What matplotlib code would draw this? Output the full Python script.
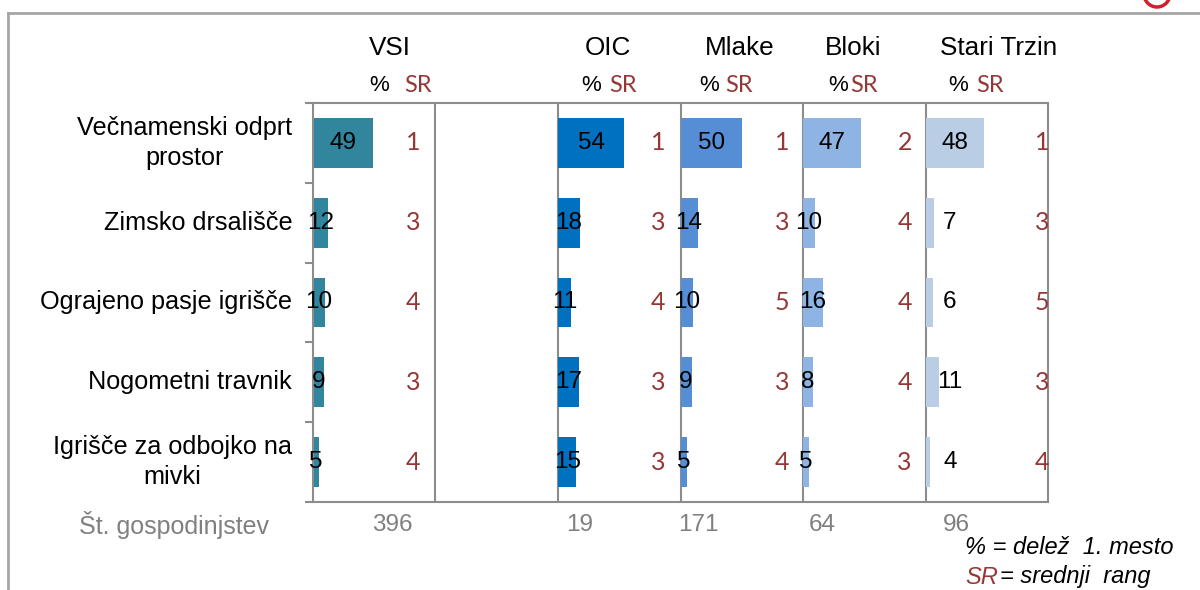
import matplotlib.pyplot as plt
import matplotlib.transforms as mtransforms
from matplotlib.lines import Line2D
from matplotlib.patches import Ellipse

# Data
categories = ['Večnamenski odprt\nprostor', 'Zimsko drsališče', 'Ograjeno pasje igrišče',
              'Nogometni travnik', 'Igrišče za odbojko na\nmivki']
groups = ['VSI', 'OIC', 'Mlake', 'Bloki', 'Stari Trzin']
pct_vsi = [49, 12, 10, 9, 5]
pct_oic = [54, 18, 11, 17, 15]
pct_mlake = [50, 14, 10, 9, 5]
pct_bloki = [47, 10, 16, 8, 5]
pct_stari = [48, 7, 6, 11, 4]
sr_vsi = [1, 3, 4, 3, 4]
sr_oic = [1, 3, 4, 3, 3]
sr_mlake = [1, 3, 5, 3, 4]
sr_bloki = [2, 4, 4, 4, 3]
sr_stari = [1, 3, 5, 3, 4]
households = [396, 19, 171, 64, 96]

pct = [pct_vsi, pct_oic, pct_mlake, pct_bloki, pct_stari]
sr = [sr_vsi, sr_oic, sr_mlake, sr_bloki, sr_stari]

# layout (x axis 0..600, every panel is 100 units wide)
offsets = [0, 200, 300, 400, 500]
colors = ['#31859C', '#0070C0', '#558ED5', '#8EB4E3', '#B9CDE5']
head_x = [63, 241, 348, 441, 560]
pct_head_x = [54, 227, 323, 429, 527]
sr_head_x = [86, 253, 348, 450, 553]
sr_x = [82, 282, 383, 483, 595]
n_x = [65, 218, 315, 416, 525]
red = '#953735'
grey = '#8C8C8C'
arial = 'Liberation Sans'
calibri = 'Lato'

fig = plt.figure(figsize=(12, 5.9), dpi=100)
ax = fig.add_axes([313 / 1200, 88 / 590, 735 / 1200, 399 / 590])

y = list(range(len(categories)))
for g in range(len(groups)):
    ax.barh(y, pct[g], left=offsets[g], height=0.625, color=colors[g], zorder=2)
    for i in y:
        v = pct[g][i]
        if g == 4:
            lx = offsets[g] + max(v / 2, 20)
        else:
            lx = offsets[g] + v / 2
        ax.text(lx, i, str(v), ha='center', va='center', fontsize=17.5,
                family=arial, color='black', zorder=3)
        ax.text(sr_x[g], i, str(sr[g][i]), ha='center', va='center', fontsize=18,
                family=calibri, color=red, zorder=3)

ax.set_xlim(0, 600)
ax.set_ylim(4.5, -0.5)
for x in [100, 200, 300, 400, 500]:
    ax.axvline(x, color=grey, lw=1.5, zorder=1)
for s in ax.spines.values():
    s.set_color(grey)
    s.set_linewidth(1.5)
ax.set_xticks([])
ax.set_yticks([i - 0.5 for i in range(len(categories) + 1)])
ax.set_yticklabels([])
ax.tick_params(axis='y', length=6, width=1.5, color=grey)

# category labels
for i, c in enumerate(categories):
    ax.text(-17, i, c, ha='right', va='center', multialignment='center',
            fontsize=18.2, family=arial, linespacing=1.3)

trans = mtransforms.blended_transform_factory(ax.transData, ax.transAxes)
for g, name in enumerate(groups):
    ax.text(head_x[g], 1.138, name, transform=trans, ha='center', va='center',
            fontsize=18.8, family=arial)
    ax.text(pct_head_x[g], 1.043, '%', transform=trans, ha='center', va='center',
            fontsize=16, family=arial)
    ax.text(sr_head_x[g], 1.043, 'SR', transform=trans, ha='center', va='center',
            fontsize=17, family=calibri, color=red)
    ax.text(n_x[g], -0.058, str(households[g]), transform=trans, ha='center',
            va='center', fontsize=17.5, family=arial, color='#808080')

ax.text(-36, -0.058, 'Št. gospodinjstev', transform=trans, ha='right', va='center',
        fontsize=18, family=arial, color='#808080')

# legend notes
fig.text(965 / 1200, 1 - 548 / 590, '% = delež  1. mesto', ha='left', va='center',
         fontsize=17, family=arial, style='italic')
fig.text(965 / 1200, 1 - 577 / 590, 'SR', ha='left', va='center',
         fontsize=17, family=arial, style='italic', color=red)
fig.text(1000 / 1200, 1 - 577 / 590, '= srednji  rang', ha='left', va='center',
         fontsize=17, family=arial, style='italic')

# outer frame and logo fragment
fig.add_artist(Line2D([8 / 1200, 1], [1 - 13 / 590, 1 - 13 / 590], color='#A6A6A6', lw=2))
fig.add_artist(Line2D([8 / 1200, 8 / 1200], [0, 1 - 13 / 590], color='#A6A6A6', lw=2))
fig.add_artist(Ellipse((1157 / 1200, 1 + 6 / 590), 26 / 1200, 26 / 590,
                       fill=False, edgecolor='#D0202E', lw=2.5))

fig.savefig('out.png', dpi=100)
